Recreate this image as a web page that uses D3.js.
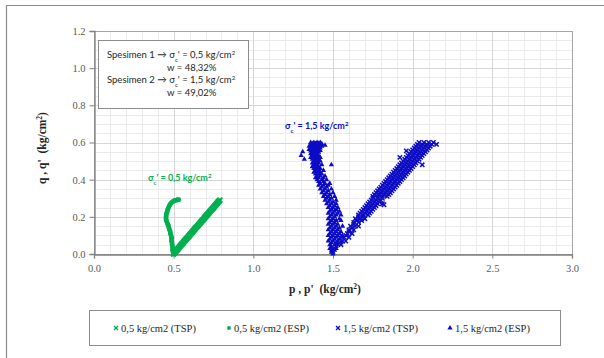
<!DOCTYPE html>
<html>
<head>
<meta charset="utf-8">
<script src="https://cdn.jsdelivr.net/npm/d3@7"></script>
<style>
  body { margin: 0; background: #fff; }
  svg { display: block; }
  text { white-space: pre; }
</style>
</head>
<body>
<div id="chart"></div>
<script>
// p , q pairs
var green_tsp = [[0.50,0.000],[0.505,0.006],[0.51,0.011],[0.515,0.016],[0.52,0.021],[0.525,0.026],[0.53,0.031],[0.535,0.037],[0.54,0.042],[0.545,0.047],[0.55,0.052],[0.555,0.056],[0.56,0.061],[0.565,0.067],[0.57,0.072],[0.575,0.077],[0.58,0.082],[0.585,0.086],[0.59,0.091],[0.595,0.096],[0.60,0.101],[0.605,0.107],[0.61,0.112],[0.615,0.116],[0.62,0.121],[0.625,0.126],[0.63,0.131],[0.635,0.137],[0.64,0.142],[0.645,0.146],[0.65,0.151],[0.655,0.156],[0.66,0.161],[0.665,0.166],[0.67,0.171],[0.675,0.176],[0.68,0.181],[0.685,0.185],[0.69,0.190],[0.695,0.196],[0.70,0.201],[0.705,0.206],[0.71,0.211],[0.715,0.215],[0.72,0.220],[0.725,0.226],[0.73,0.231],[0.735,0.236],[0.74,0.241],[0.745,0.245],[0.75,0.250],[0.755,0.256],[0.76,0.261],[0.765,0.265],[0.77,0.270],[0.775,0.276],[0.78,0.281],[0.785,0.285],[0.79,0.290]];

var green_esp = [[0.500,0.000],[0.499,0.005],[0.498,0.010],[0.496,0.015],[0.494,0.020],[0.495,0.026],[0.495,0.031],[0.493,0.038],[0.491,0.045],[0.490,0.052],[0.489,0.060],[0.487,0.068],[0.486,0.075],[0.487,0.083],[0.487,0.090],[0.484,0.098],[0.481,0.105],[0.480,0.112],[0.478,0.120],[0.475,0.128],[0.472,0.135],[0.470,0.143],[0.468,0.150],[0.465,0.156],[0.462,0.162],[0.459,0.168],[0.456,0.175],[0.454,0.181],[0.452,0.188],[0.452,0.194],[0.452,0.200],[0.453,0.206],[0.454,0.212],[0.456,0.218],[0.458,0.225],[0.460,0.231],[0.462,0.238],[0.465,0.244],[0.468,0.250],[0.471,0.256],[0.474,0.262],[0.478,0.267],[0.482,0.272],[0.487,0.276],[0.492,0.280],[0.497,0.283],[0.502,0.286],[0.507,0.288],[0.512,0.289],[0.517,0.290],[0.522,0.291],[0.527,0.292],[0.532,0.292]];

var blue_tsp = [[1.55,0.05],[1.54,0.06],[1.56,0.07],[1.58,0.07],[1.57,0.09],[1.60,0.09],[1.58,0.10],[1.59,0.11],[1.62,0.11],[1.60,0.12],[1.60,0.13],[1.63,0.13],[1.62,0.14],[1.61,0.15],[1.64,0.15],[1.66,0.15],[1.63,0.16],[1.63,0.17],[1.66,0.17],[1.65,0.18],[1.68,0.18],
  [1.64,0.19],[1.67,0.19],[1.70,0.19],[1.66,0.20],[1.69,0.20],[1.66,0.21],[1.69,0.21],[1.72,0.21],[1.67,0.22],[1.70,0.22],[1.73,0.22],[1.68,0.23],[1.71,0.23],[1.74,0.23],[1.69,0.24],[1.72,0.24],[1.75,0.24],
  [1.70,0.25],[1.73,0.25],[1.76,0.25],[1.71,0.26],[1.74,0.26],[1.77,0.26],[1.72,0.27],[1.75,0.27],[1.78,0.27],[1.81,0.27],[1.73,0.28],[1.76,0.28],[1.79,0.28],[1.74,0.29],[1.77,0.29],[1.80,0.29],
  [1.75,0.30],[1.78,0.30],[1.81,0.30],[1.75,0.31],[1.78,0.31],[1.81,0.31],[1.84,0.31],[1.76,0.32],[1.79,0.32],[1.82,0.32],[1.85,0.32],[1.77,0.33],[1.80,0.33],[1.83,0.33],[1.86,0.33],
  [1.78,0.34],[1.81,0.34],[1.84,0.34],[1.87,0.34],[1.79,0.35],[1.82,0.35],[1.85,0.35],[1.88,0.35],[1.80,0.36],[1.83,0.36],[1.86,0.36],[1.89,0.36],[1.81,0.37],[1.84,0.37],[1.87,0.37],[1.90,0.37],
  [1.82,0.38],[1.85,0.38],[1.88,0.38],[1.91,0.38],[1.83,0.39],[1.86,0.39],[1.89,0.39],[1.92,0.39],[1.84,0.40],[1.87,0.40],[1.90,0.40],[1.93,0.40],[1.85,0.41],[1.88,0.41],[1.91,0.41],[1.94,0.41],
  [1.86,0.42],[1.89,0.42],[1.92,0.42],[1.95,0.42],[1.87,0.43],[1.90,0.43],[1.93,0.43],[1.96,0.43],[1.88,0.44],[1.91,0.44],[1.94,0.44],[1.97,0.44],[1.89,0.45],[1.92,0.45],[1.95,0.45],[1.98,0.45],
  [1.90,0.46],[1.93,0.46],[1.96,0.46],[1.99,0.46],[1.91,0.47],[1.94,0.47],[1.97,0.47],[2.00,0.47],[1.92,0.48],[1.95,0.48],[1.98,0.48],[2.01,0.48],[1.93,0.49],[1.96,0.49],[1.99,0.49],[2.02,0.49],
  [1.94,0.50],[1.97,0.50],[2.00,0.50],[2.03,0.50],[1.95,0.51],[1.98,0.51],[2.01,0.51],[2.04,0.51],[1.96,0.52],[1.99,0.52],[2.02,0.52],[2.05,0.52],[1.97,0.53],[2.00,0.53],[2.03,0.53],[2.06,0.53],
  [1.98,0.54],[2.01,0.54],[2.04,0.54],[2.07,0.54],[1.99,0.55],[2.02,0.55],[2.05,0.55],[2.08,0.55],[2.00,0.56],[2.03,0.56],[2.06,0.56],[2.09,0.56],[2.01,0.57],[2.04,0.57],[2.07,0.57],[2.10,0.57],
  [2.02,0.58],[2.05,0.58],[2.08,0.58],[2.11,0.58],[2.03,0.59],[2.06,0.59],[2.09,0.59],[2.12,0.59],[2.04,0.60],[2.07,0.60],[2.10,0.60],[2.13,0.60],
  [1.96,0.555],[1.92,0.52],[2.06,0.48],[2.15,0.59],[1.82,0.265]];

var blue_esp = [[1.36,0.600],[1.38,0.600],[1.40,0.600],[1.42,0.600],[1.37,0.595],[1.39,0.594],[1.41,0.596],[1.43,0.593],[1.36,0.588],[1.38,0.587],[1.40,0.589],[1.42,0.586],[1.35,0.580],[1.37,0.579],[1.39,0.581],[1.41,0.578],[1.43,0.580],
  [1.36,0.572],[1.38,0.571],[1.40,0.573],[1.42,0.570],[1.35,0.563],[1.37,0.564],[1.39,0.562],[1.41,0.565],[1.36,0.555],[1.38,0.556],[1.40,0.554],[1.42,0.557],[1.37,0.547],[1.39,0.546],[1.41,0.548],[1.36,0.539],[1.38,0.540],[1.40,0.538],
  [1.37,0.53],[1.39,0.53],[1.41,0.53],[1.36,0.52],[1.38,0.52],[1.40,0.52],[1.42,0.52],[1.37,0.51],[1.39,0.51],[1.41,0.51],[1.38,0.50],[1.40,0.50],[1.42,0.50],[1.37,0.49],[1.39,0.49],[1.41,0.49],
  [1.38,0.48],[1.40,0.48],[1.43,0.48],[1.37,0.47],[1.39,0.47],[1.41,0.47],[1.38,0.46],[1.40,0.46],[1.42,0.46],[1.39,0.45],[1.41,0.45],[1.44,0.45],[1.38,0.44],[1.40,0.44],[1.42,0.44],
  [1.39,0.43],[1.41,0.43],[1.43,0.43],[1.40,0.42],[1.42,0.42],[1.45,0.42],[1.39,0.41],[1.41,0.41],[1.44,0.41],[1.40,0.40],[1.43,0.40],[1.46,0.40],[1.41,0.39],[1.44,0.39],
  [1.42,0.38],[1.45,0.38],[1.48,0.38],[1.41,0.37],[1.44,0.37],[1.47,0.37],[1.43,0.36],[1.46,0.36],[1.42,0.35],[1.45,0.35],[1.49,0.35],[1.44,0.34],[1.47,0.34],[1.43,0.33],[1.46,0.33],[1.50,0.33],
  [1.45,0.32],[1.48,0.32],[1.44,0.31],[1.47,0.31],[1.51,0.31],[1.46,0.30],[1.49,0.30],[1.45,0.29],[1.48,0.29],[1.52,0.29],[1.47,0.28],[1.50,0.28],[1.46,0.27],[1.49,0.27],[1.52,0.27],
  [1.48,0.26],[1.51,0.26],[1.47,0.25],[1.50,0.25],[1.53,0.25],[1.49,0.24],[1.52,0.24],[1.48,0.23],[1.51,0.23],[1.54,0.23],[1.47,0.22],[1.50,0.22],[1.53,0.22],[1.49,0.21],[1.52,0.21],[1.55,0.21],
  [1.48,0.20],[1.51,0.20],[1.47,0.19],[1.50,0.19],[1.54,0.19],[1.49,0.18],[1.52,0.18],[1.55,0.18],[1.48,0.17],[1.51,0.17],[1.47,0.16],[1.50,0.16],[1.53,0.16],[1.49,0.15],[1.52,0.15],[1.56,0.15],
  [1.48,0.14],[1.51,0.14],[1.54,0.14],[1.47,0.13],[1.50,0.13],[1.53,0.13],[1.49,0.12],[1.52,0.12],[1.55,0.12],[1.48,0.11],[1.51,0.11],[1.54,0.11],[1.47,0.10],[1.50,0.10],[1.53,0.10],[1.56,0.10],
  [1.49,0.09],[1.52,0.09],[1.55,0.09],[1.48,0.08],[1.51,0.08],[1.54,0.08],[1.47,0.07],[1.50,0.07],[1.53,0.07],[1.49,0.06],[1.52,0.06],[1.55,0.06],[1.48,0.05],[1.51,0.05],[1.53,0.05],
  [1.49,0.04],[1.52,0.04],[1.48,0.03],[1.50,0.03],[1.52,0.03],[1.49,0.02],[1.51,0.02],[1.50,0.01],[1.49,0.01],[1.50,0.00],
  [1.31,0.55],[1.32,0.51],[1.30,0.53],[1.45,0.585],[1.49,0.48]];

var legendLabels = ["0,5 kg/cm2 (TSP)", "0,5 kg/cm2 (ESP)", "1,5 kg/cm2 (TSP)", "1,5 kg/cm2 (ESP)"];
var xTicks = [0, 0.5, 1, 1.5, 2, 2.5, 3];
var yTicks = [0, 0.2, 0.4, 0.6, 0.8, 1.0, 1.2];

var green = "#00b050";
var blue = "#0c0cc4";

var width = 604, height = 358;

var svg = d3.select("#chart").append("svg")
  .attr("width", width)
  .attr("height", height);

// outer chart frame (only top and left visible)
svg.append("path")
  .attr("d", "M6.5," + height + "V5.5H" + width)
  .attr("fill", "none")
  .attr("stroke", "#8c8c8c")
  .attr("stroke-width", 1.2);

var x = d3.scaleLinear().domain([0, 3]).range([94, 572]);
var y = d3.scaleLinear().domain([0, 1.2]).range([254, 31]);

// gridlines: minor then major
var g = svg.append("g");
g.selectAll(".vminor").data(d3.range(0, 31).map(function(i) { return i / 10; }))
  .enter().append("line")
  .attr("x1", function(d) { return Math.round(x(d)) + 0.5; })
  .attr("x2", function(d) { return Math.round(x(d)) + 0.5; })
  .attr("y1", y(0)).attr("y2", y(1.2))
  .attr("stroke", "#ebebeb");
g.selectAll(".hminor").data(d3.range(0, 25).map(function(i) { return i / 20; }))
  .enter().append("line")
  .attr("y1", function(d) { return Math.round(y(d)) + 0.5; })
  .attr("y2", function(d) { return Math.round(y(d)) + 0.5; })
  .attr("x1", x(0)).attr("x2", x(3))
  .attr("stroke", "#ebebeb");
g.selectAll(".vmajor").data(xTicks)
  .enter().append("line")
  .attr("x1", function(d) { return Math.round(x(d)) + 0.5; })
  .attr("x2", function(d) { return Math.round(x(d)) + 0.5; })
  .attr("y1", y(0)).attr("y2", y(1.2))
  .attr("stroke", "#d6d6d6");
g.selectAll(".hmajor").data(yTicks)
  .enter().append("line")
  .attr("y1", function(d) { return Math.round(y(d)) + 0.5; })
  .attr("y2", function(d) { return Math.round(y(d)) + 0.5; })
  .attr("x1", x(0)).attr("x2", x(3))
  .attr("stroke", "#d6d6d6");

// plot area border
svg.append("rect")
  .attr("x", x(0) + 0.5).attr("y", y(1.2) + 0.5)
  .attr("width", x(3) - x(0)).attr("height", y(0) - y(1.2))
  .attr("fill", "none")
  .attr("stroke", "#a6a6a6");

// axes
var fmt = d3.format(".1f");
var yAxis = svg.append("g")
  .attr("transform", "translate(" + (x(0) + 0.5) + ",0)")
  .call(d3.axisLeft(y).tickValues(yTicks).tickFormat(fmt).tickSize(5).tickPadding(4));
var xAxis = svg.append("g")
  .attr("transform", "translate(0," + (y(0) + 0.5) + ")")
  .call(d3.axisBottom(x).tickValues(xTicks).tickFormat(fmt).tickSize(4).tickPadding(6));

[yAxis, xAxis].forEach(function(a) {
  a.select(".domain").attr("stroke", "#808080").attr("stroke-width", 1.3);
  a.selectAll(".tick line").attr("stroke", "#808080");
  a.selectAll("text")
    .attr("fill", "#595959")
    .style("font-family", "'Liberation Serif', serif")
    .style("font-size", "10.5px");
});

// axis titles
function axisTitle(t, label) {
  t.attr("text-anchor", "middle")
    .style("font-family", "'Liberation Serif', serif")
    .style("font-size", "11.5px")
    .style("font-weight", "bold")
    .attr("fill", "#262626");
  t.append("tspan").text(label + "  (kg/cm");
  t.append("tspan").attr("baseline-shift", "super").style("font-size", "7.5px").text("2");
  t.append("tspan").text(")");
}
axisTitle(svg.append("text").attr("x", 325).attr("y", 293), "p , p'");
axisTitle(svg.append("text").attr("transform", "translate(46,148) rotate(-90)"), "q , q'");

// markers
var symTimes = d3.symbolTimes || d3.symbolCross;
var plot = svg.append("g");

function drawSeries(data, type, color, size, sw) {
  var sel = plot.append("g").selectAll("path").data(data).enter().append("path")
    .attr("transform", function(d) { return "translate(" + x(d[0]) + "," + y(d[1]) + ")"; });
  if (type === "times") {
    sel.attr("d", d3.symbol().type(symTimes).size(size))
      .attr("fill", "none").attr("stroke", color).attr("stroke-width", sw);
  } else if (type === "circle") {
    sel.attr("d", d3.symbol().type(d3.symbolCircle).size(size)).attr("fill", color);
  } else {
    sel.attr("d", d3.symbol().type(d3.symbolTriangle).size(size)).attr("fill", color);
  }
}

drawSeries(green_tsp, "times", green, 18, 2);
drawSeries(green_esp, "circle", green, 18);
drawSeries(blue_tsp, "times", blue, 14, 1.5);
drawSeries(blue_esp, "triangle", blue, 12);

// specimen text box
var box = svg.append("g");
box.append("rect")
  .attr("x", 98.5).attr("y", 40.5).attr("width", 150).attr("height", 68)
  .attr("fill", "#fff").attr("stroke", "#8c8c8c");

function sigmaLine(sel, prefix, val) {
  sel.append("tspan").text(prefix + " \u2192 \u03c3");
  sel.append("tspan").attr("baseline-shift", "sub").style("font-size", "6px").text("c");
  sel.append("tspan").text("' = " + val + " kg/cm");
  sel.append("tspan").attr("baseline-shift", "super").style("font-size", "6px").text("2");
}

var boxFont = "Lato, 'Open Sans', sans-serif";
var t1 = box.append("text").attr("x", 107).attr("y", 58)
  .style("font-family", boxFont).style("font-size", "9.5px").attr("fill", "#262626");
sigmaLine(t1, "Spesimen 1", "0,5");
box.append("text").attr("x", 167).attr("y", 71)
  .style("font-family", boxFont).style("font-size", "9.5px").attr("fill", "#262626")
  .text("w = 48,32%");
var t3 = box.append("text").attr("x", 107).attr("y", 83)
  .style("font-family", boxFont).style("font-size", "9.5px").attr("fill", "#262626");
sigmaLine(t3, "Spesimen 2", "1,5");
box.append("text").attr("x", 167).attr("y", 96)
  .style("font-family", boxFont).style("font-size", "9.5px").attr("fill", "#262626")
  .text("w = 49,02%");

// series annotations
function annot(px, py, val, color) {
  var t = svg.append("text").attr("x", px).attr("y", py)
    .style("font-family", boxFont).style("font-size", "9px").style("font-weight", "bold")
    .attr("fill", color);
  t.append("tspan").text("\u03c3");
  t.append("tspan").attr("baseline-shift", "sub").style("font-size", "6px").text("c");
  t.append("tspan").text("' = " + val + " kg/cm");
  t.append("tspan").attr("baseline-shift", "super").style("font-size", "6px").text("2");
}
annot(148, 181, "0,5", green);
annot(285, 129, "1,5", blue);

// legend
var legend = svg.append("g");
legend.append("rect")
  .attr("x", 89.5).attr("y", 310.5).attr("width", 471).attr("height", 35)
  .attr("fill", "#fff").attr("stroke", "#8c8c8c");

var legX = [116, 229, 338, 450];
var legTypes = [["times", green], ["circle", green], ["times", blue], ["triangle", blue]];
legendLabels.forEach(function(lab, i) {
  var item = legend.append("g").attr("transform", "translate(" + legX[i] + ",328)");
  var m = item.append("path");
  var tp = legTypes[i][0], col = legTypes[i][1];
  if (tp === "times") {
    m.attr("d", d3.symbol().type(symTimes).size(12)).attr("fill", "none").attr("stroke", col).attr("stroke-width", 1.3);
  } else if (tp === "circle") {
    m.attr("d", d3.symbol().type(d3.symbolCircle).size(12)).attr("fill", col);
  } else {
    m.attr("d", d3.symbol().type(d3.symbolTriangle).size(12)).attr("fill", col);
  }
  item.append("text").attr("x", 5).attr("y", 3.5)
    .style("font-family", "'Liberation Serif', serif")
    .style("font-size", "10.5px")
    .attr("fill", "#262626")
    .text(lab);
});
</script>
</body>
</html>
